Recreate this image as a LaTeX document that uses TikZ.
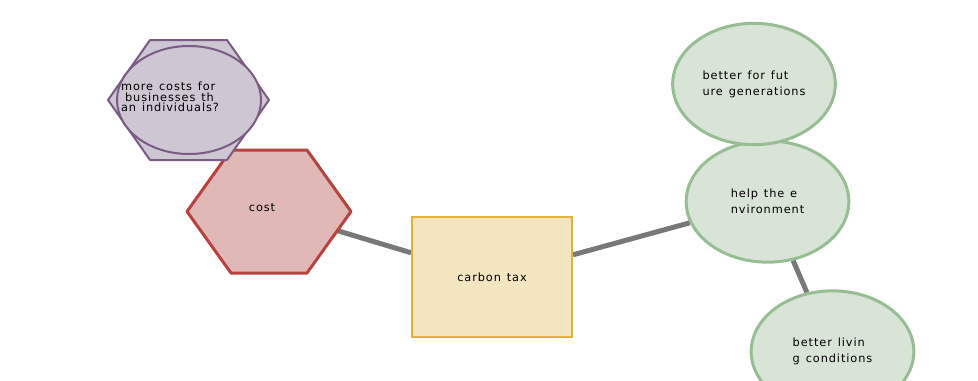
\documentclass[tikz,border=0pt]{standalone}
\usepackage{fontspec}
\setmainfont{DejaVu Sans}[LetterSpace=8, WordSpace=1.3]
\usetikzlibrary{shapes.geometric, backgrounds}

\definecolor{mauve}{HTML}{CFC6D3}
\definecolor{mauveline}{HTML}{7B5A83}
\definecolor{rose}{HTML}{E0B9B6}
\definecolor{roseline}{HTML}{B84240}
\definecolor{sand}{HTML}{F2E5C0}
\definecolor{sandline}{HTML}{E2B33A}
\definecolor{leaf}{HTML}{D8E4D6}
\definecolor{leafline}{HTML}{96BE92}

\begin{document}
\begin{tikzpicture}[
  x=0.75pt, y=-0.75pt,
  font=\fontsize{8.5}{12}\selectfont,
  idea/.style={
    ellipse, draw=leafline, fill=leaf, line width=2.25pt,
    minimum width=122pt, minimum height=91pt, align=left, inner sep=2pt
  },
  topic/.style={
    rectangle, draw=sandline, fill=sand, line width=1.5pt,
    minimum width=120pt, minimum height=90pt, align=center
  },
  con/.style={draw=roseline, fill=rose, line width=2.25pt, line join=round},
  query/.style={draw=mauveline, fill=mauve, line width=1.5pt, line join=round},
  link/.style={draw=black!53, line width=3.75pt}
]
\useasboundingbox (0,0) rectangle (978,380);

% ---- the central topic and its arguments
\node[topic] (tax) at (492,277) {carbon tax};
\node[idea]  (env) at (767.5,201.5) {help the e\\nvironment};
\node[idea]  (fut) at (754,84) {better for fut\\ure generations};
\node[idea]  (liv) at (832.5,351.5) {better livin\\g conditions};

% ---- the counter argument and its open question (text only, shapes below)
\node[align=center] (cost) at (262,208) {cost};
\node[align=left, font=\fontsize{8.5}{8}\selectfont] (more) at (170,97)
  {more costs for\\\hspace*{0.35em}businesses th\\an individuals?};

\begin{scope}[on background layer]
  \foreach \a/\b in {cost/tax, tax/env, env/liv}
    \draw[link] (\a) -- (\b);

  % hexagons sit behind the text
  \draw[con, shift={(269,211.5)}]
    (-82,0) -- (-38,-61.5) -- (38,-61.5) -- (82,0) -- (38,61.5) -- (-38,61.5) -- cycle;
  \draw[query, shift={(188.5,100)}]
    (-80.5,0) -- (-38.5,-60) -- (38.5,-60) -- (80.5,0) -- (38.5,60) -- (-38.5,60) -- cycle;
  \draw[query] (189,100) ellipse [x radius=72, y radius=54];
\end{scope}

\end{tikzpicture}
\end{document}
